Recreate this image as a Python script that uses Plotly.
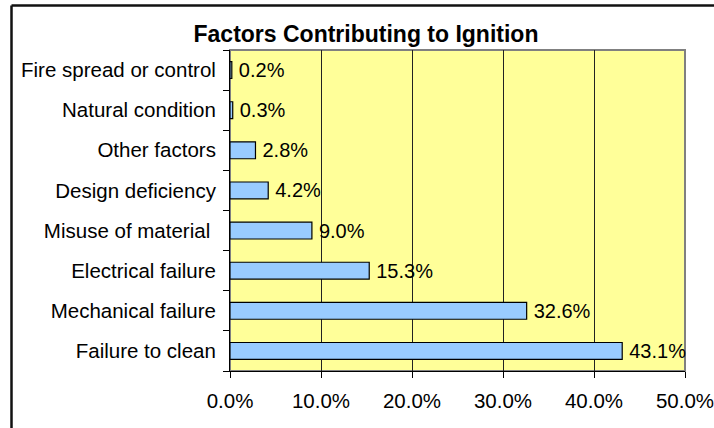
import plotly.graph_objects as go

# Data (bottom to top)
categories = ["Failure to clean", "Mechanical failure", "Electrical failure",
              "Misuse of material ", "Design deficiency", "Other factors",
              "Natural condition", "Fire spread or control"]
values = [43.1, 32.6, 15.3, 9.0, 4.2, 2.8, 0.3, 0.2]
x_ticks = [0, 10, 20, 30, 40, 50]
x_tick_labels = ["0.0%", "10.0%", "20.0%", "30.0%", "40.0%", "50.0%"]
title_text = "Factors Contributing to Ignition"

FONT = "Liberation Sans, Arial, sans-serif"

fig = go.Figure(go.Bar(
    y=categories, x=values, orientation="h",
    marker=dict(color="#99CCFF", line=dict(color="#000000", width=1.2)),
    width=0.42,
    text=[f"\u2009{v:.1f}%" for v in values],
    textposition="outside", cliponaxis=False, constraintext="none",
    textfont=dict(family=FONT, size=20, color="#000000"),
))

W, H = 714, 428
L, R, T, B = 230, 29, 50, 57

fig.update_layout(
    width=W, height=H,
    margin=dict(l=L, r=R, t=T, b=B, autoexpand=False),
    paper_bgcolor="white", plot_bgcolor="#FFFF99",
    showlegend=False,
    title=dict(text="<b>" + title_text + "</b>", x=366 / W, xanchor="center",
               y=1 - 34 / H, yanchor="middle",
               font=dict(family=FONT, size=23, color="#000000")),
    font=dict(family=FONT, size=20.5, color="#000000"),
    xaxis=dict(range=[0, 50], tickvals=x_ticks, ticktext=x_tick_labels,
               showgrid=True, gridcolor="#222222", gridwidth=1,
               showline=True, linecolor="#000000", linewidth=1,
               ticks="outside", ticklen=6, tickcolor="#000000",
               ticklabelstandoff=5, ticklabeloverflow="allow",
               zeroline=False, fixedrange=True, automargin=False),
    yaxis=dict(type="category", categoryorder="array", categoryarray=categories,
               range=[-0.5, len(categories) - 0.5],
               showgrid=False, showline=True, linecolor="#000000", linewidth=1,
               ticks="outside", ticklen=6, tickcolor="#000000",
               tickson="boundaries", ticklabelstandoff=9, fixedrange=True,
               automargin=False),
    shapes=[
        dict(type="rect", xref="paper", yref="paper", x0=0, x1=1, y0=0, y1=1,
             line=dict(color="#808080", width=2), layer="below"),
        dict(type="line", xref="paper", yref="paper",
             x0=(11.5 - L) / (W - L - R), x1=(W + 5 - L) / (W - L - R),
             y0=1 + (T - 5.5) / (H - T - B), y1=1 + (T - 5.5) / (H - T - B),
             line=dict(color="#111111", width=2.5)),
        dict(type="line", xref="paper", yref="paper",
             x0=(11.5 - L) / (W - L - R), x1=(11.5 - L) / (W - L - R),
             y0=1 + (T - 5.5) / (H - T - B), y1=-(B + 10) / (H - T - B),
             line=dict(color="#111111", width=2.5)),
    ],
)

fig.write_html("out.html", config={"displayModeBar": False},
               post_script="document.body.style.margin='0';document.body.style.overflow='hidden';")
